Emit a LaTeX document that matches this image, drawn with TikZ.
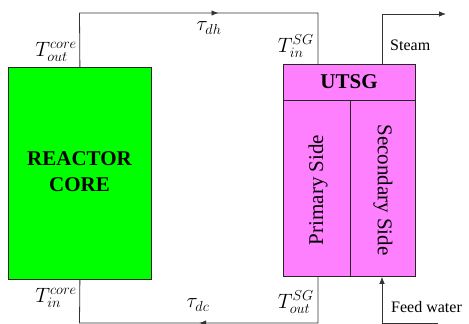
\documentclass[tikz,border=0pt]{standalone}
\usepackage{fontspec}
\setmainfont{Liberation Serif}
\usetikzlibrary{arrows.meta,decorations.markings}
\tikzset{
  box/.style={draw=black!85, line width=0.8pt, inner sep=0pt, anchor=north west},
  wire/.style={draw=black!80, line width=0.8pt},
  midarrow/.style={postaction={decorate}, decoration={markings, mark=at position #1 with {\arrow{Latex[length=7pt,width=5.5pt]}}}},
  endarrow/.style={-{Latex[length=7pt,width=5.5pt]}},
  lbl/.style={inner sep=0pt, font=\fontsize{20.74}{23}\selectfont},
  txt/.style={inner sep=0pt, font=\fontsize{16}{18}\selectfont},
  big/.style={font=\fontsize{21}{26}\selectfont\bfseries, align=center},
  side/.style={font=\fontsize{21}{24}\selectfont}
}
\begin{document}
\begin{tikzpicture}[x=1pt,y=-1pt]
\useasboundingbox (0,0) rectangle (469,324);
% reactor core
\node[box, fill={rgb,255:red,0;green,255;blue,0}, minimum width=143pt, minimum height=212pt] (core) at (8,67) {};
\node[big] (coretxt) at (79.5,172) {REACTOR\\CORE};
% UTSG
\node[box, fill={rgb,255:red,255;green,128;blue,255}, minimum width=132pt, minimum height=36pt] (head) at (283,64) {};
\node[big] (headtxt) at (349,82) {UTSG};
\node[box, fill={rgb,255:red,255;green,128;blue,255}, minimum width=67pt, minimum height=176pt] (prim) at (283,100) {};
\node[box, fill={rgb,255:red,255;green,128;blue,255}, minimum width=65pt, minimum height=176pt] (sec) at (350,100) {};
\node[side, rotate=90] (primtxt) at (318,190) {Primary Side};
\node[side, rotate=-90] (sectxt) at (383,190) {Secondary Side};
% coordinates
\coordinate (tl) at (79.5,13);
\coordinate (tr) at (318,13);
\coordinate (bl) at (79.5,323);
\coordinate (br) at (318,323);
\coordinate (stup) at (382,14);
\coordinate (stend) at (446,14);
\coordinate (fwcorner) at (382,323);
\coordinate (fwstart) at (438,323);
% hot leg
\path[wire, midarrow=193pt] (core.north) -- (tl) -- (tr) -- (tr |- head.north);
% cold leg
\path[wire, midarrow=165pt] (br |- prim.south) -- (br) -- (bl) -- (core.south);
% steam
\path[wire, endarrow] (stup |- head.north) -- (stup) -- (stend);
% feed water
\path[wire, endarrow] (fwstart) -- (fwcorner) -- (fwcorner |- sec.south);
% labels
\node[lbl, anchor=east] (lto) at (77,52) {$T_{out}^{core}$};
\node[lbl, anchor=east] (lti) at (77,298) {$T_{in}^{core}$};
\node[lbl] (ltdh) at (209,28) {$\tau_{dh}$};
\node[lbl] (ltdc) at (198,305) {$\tau_{dc}$};
\node[lbl, anchor=east] (lsi) at (314,46) {$T_{in}^{SG}$};
\node[lbl, anchor=east] (lso) at (314,302) {$T_{out}^{SG}$};
\node[txt, anchor=west] (lst) at (390,45) {Steam};
\node[txt, anchor=west] (lfw) at (391,307) {Feed water};
\end{tikzpicture}
\end{document}
